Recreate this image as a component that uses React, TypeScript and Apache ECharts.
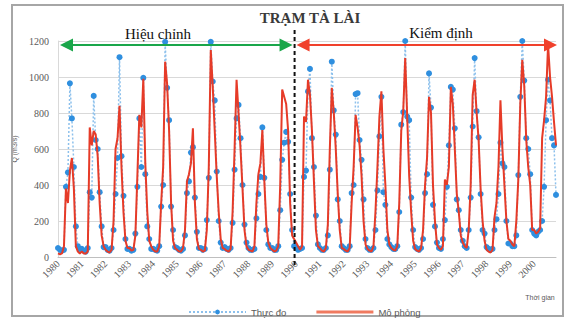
import React, { useEffect, useRef } from "react";
import * as echarts from "echarts";

const years = [1980, 1981, 1982, 1983, 1984, 1985, 1986, 1987, 1988, 1989, 1990, 1991, 1992, 1993, 1994, 1995, 1996, 1997, 1998, 1999, 2000];
const months = ["01", "02", "03", "04", "05", "06", "07", "08", "09", "10", "11", "12"];

// Thực đo (observed), monthly, m3/s
const observed = [
  50, 40, 35, 40, 390, 470, 965, 770, 500, 170, 60, 45,
  45, 35, 30, 50, 360, 330, 895, 650, 600, 360, 170, 55,
  55, 40, 35, 50, 150, 350, 550, 1110, 560, 340, 100, 45,
  45, 35, 40, 130, 390, 770, 500, 995, 460, 170, 100, 45,
  45, 40, 35, 60, 280, 400, 1195, 940, 760, 280, 150, 55,
  50, 40, 35, 45, 120, 355, 420, 580, 610, 330, 140, 50,
  50, 40, 45, 205, 440, 1195, 975, 870, 475, 200, 80, 50,
  55, 45, 40, 50, 190, 485, 770, 845, 660, 400, 180, 80,
  50, 40, 40, 45, 215, 350, 445, 720, 440, 150, 70, 50,
  50, 40, 40, 60, 260, 540, 635, 695, 640, 350, 150, 60,
  50, 40, 45, 50, 445, 480, 920, 1045, 660, 500, 230, 70,
  50, 40, 40, 50, 120, 485, 1085, 815, 680, 320, 200, 60,
  50, 40, 40, 60, 355, 400, 905, 910, 650, 540, 320, 100,
  50, 40, 40, 50, 150, 370, 670, 890, 360, 290, 100, 70,
  55, 45, 45, 60, 250, 735, 805, 1200, 780, 760, 330, 150,
  55, 45, 40, 50, 100, 355, 460, 1020, 830, 290, 170, 80,
  50, 45, 100, 205, 390, 620, 945, 930, 715, 320, 260, 150,
  90, 60, 50, 150, 330, 725, 1105, 810, 665, 350, 150, 130,
  55, 45, 40, 45, 150, 210, 350, 635, 520, 500, 200, 75,
  75, 60, 60, 120, 455, 890, 1200, 980, 660, 600, 460, 150,
  130, 120, 140, 150, 200, 390, 760, 985, 870, 660, 620, 345,
];

// Mô phỏng (simulated), monthly, m3/s
const simulated = [
  20, 15, 20, 60, 380, 300, 480, 550, 380, 60, 30, 20,
  30, 20, 20, 30, 720, 620, 700, 680, 560, 300, 120, 60,
  40, 30, 25, 40, 200, 600, 660, 840, 500, 250, 90, 50,
  50, 35, 40, 120, 450, 790, 720, 990, 520, 250, 90, 60,
  40, 30, 30, 60, 300, 500, 1085, 960, 700, 300, 90, 50,
  40, 30, 30, 50, 150, 420, 460, 520, 715, 300, 100, 45,
  40, 30, 35, 150, 500, 1150, 945, 700, 450, 250, 100, 50,
  45, 35, 30, 45, 250, 600, 985, 800, 600, 380, 150, 60,
  40, 35, 30, 60, 300, 460, 520, 705, 420, 180, 80, 50,
  40, 30, 35, 60, 400, 930, 890, 850, 700, 300, 120, 100,
  80, 60, 40, 60, 780, 750, 985, 900, 700, 420, 150, 60,
  50, 35, 30, 50, 180, 600, 940, 800, 600, 350, 150, 50,
  45, 35, 30, 50, 300, 500, 790, 720, 620, 450, 200, 70,
  45, 35, 30, 60, 250, 500, 780, 920, 600, 400, 150, 70,
  50, 40, 35, 60, 300, 700, 810, 1105, 780, 450, 250, 90,
  45, 35, 30, 50, 150, 400, 550, 890, 800, 400, 200, 70,
  50, 40, 60, 430, 400, 500, 945, 850, 600, 350, 250, 120,
  80, 60, 50, 150, 400, 900, 985, 800, 650, 380, 200, 90,
  40, 30, 25, 40, 220, 300, 500, 870, 600, 400, 200, 100,
  90, 70, 60, 200, 430, 850, 1095, 950, 650, 500, 400, 150,
  150, 130, 140, 160, 660, 760, 890, 1180, 1000, 890, 750, 620,
];

const yTicks = [0, 200, 400, 600, 800, 1000, 1200];
const splitYear = 1990;

const categories: string[] = [];
years.forEach((y) => months.forEach((m) => categories.push(`${y}-${m}`)));

export default function App() {
  const ref = useRef<HTMLDivElement>(null);

  useEffect(() => {
    if (!ref.current) return;
    const chart = echarts.init(ref.current, null, { renderer: "svg" });
    const serif = "'Liberation Serif', 'DejaVu Serif', serif";
    const sans = "'Liberation Sans', Arial, sans-serif";

    chart.setOption({
      animation: false,
      backgroundColor: "#ffffff",
      title: {
        text: "TRẠM TÀ LÀI",
        left: 305,
        textAlign: "center",
        top: 5,
        textStyle: { fontFamily: serif, fontWeight: "bold", fontSize: 15, color: "#3a3a3a" },
      },
      grid: { left: 58, right: 9, top: 41, bottom: 63 },
      legend: {
        left: 183,
        top: 302,
        itemWidth: 57,
        itemHeight: 6,
        itemGap: 30,
        textStyle: { fontFamily: sans, fontSize: 9.5, color: "#595959" },
        data: [
          { name: "Thực đo" },
          { name: "Mô phỏng", icon: "path://M0,0h57v3h-57z", itemStyle: { color: "#f07a60" } },
        ],
      },
      xAxis: {
        type: "category",
        data: categories,
        boundaryGap: false,
        axisLine: { lineStyle: { color: "#bfbfbf" } },
        axisTick: { show: false },
        axisLabel: {
          interval: (i: number) => i % 12 === 0,
          formatter: (v: string) => v.slice(0, 4),
          rotate: 45,
          fontFamily: serif,
          fontSize: 10,
          color: "#595959",
          margin: 5,
        },
        splitLine: { show: false },
      },
      yAxis: {
        type: "value",
        min: yTicks[0],
        max: yTicks[yTicks.length - 1],
        interval: 200,
        name: "Q (m3/s)",
        nameLocation: "middle",
        nameRotate: 90,
        nameGap: 38,
        nameTextStyle: { fontFamily: sans, fontSize: 7, color: "#595959" },
        axisLine: { show: true, lineStyle: { color: "#d9d9d9" } },
        axisTick: { show: false },
        axisLabel: { fontFamily: serif, fontSize: 10, color: "#595959", margin: 9, formatter: (v: number) => String(v) },
        splitLine: { lineStyle: { color: "#d9d9d9", width: 1 } },
      },
      series: [
        {
          name: "Thực đo",
          type: "line",
          data: observed,
          symbol: "circle",
          symbolSize: 6,
          showAllSymbol: true,
          z: 2,
          itemStyle: { color: "#2f8fdf" },
          lineStyle: { type: [2, 2], width: 1.5, color: "#8cc0ec" },
        },
        {
          name: "Mô phỏng",
          type: "line",
          data: simulated,
          symbol: "none",
          z: 3,
          itemStyle: { color: "#ee6a50" },
          lineStyle: { width: 2, color: "#e63b28" },
        },
      ],
    });

    const x0 = chart.convertToPixel({ xAxisIndex: 0 }, categories[0]) as number;
    const xs = chart.convertToPixel({ xAxisIndex: 0 }, `${splitYear}-01`) as number;
    const xe = chart.convertToPixel({ xAxisIndex: 0 }, categories[categories.length - 1]) as number;
    const dashX = xs - 1.5;
    const ay = 45;
    const hl = 13;
    const hw = 6.5;

    const arrow = (a: number, b: number, color: string) => [
      { type: "line", shape: { x1: a + hl - 2, y1: ay, x2: b - hl + 2, y2: ay }, style: { stroke: color, lineWidth: 2 }, z: 10 },
      { type: "polygon", shape: { points: [[a, ay], [a + hl, ay - hw], [a + hl, ay + hw]] }, style: { fill: color }, z: 10 },
      { type: "polygon", shape: { points: [[b, ay], [b - hl, ay - hw], [b - hl, ay + hw]] }, style: { fill: color }, z: 10 },
    ];

    chart.setOption({
      graphic: [
        { type: "rect", shape: { x: 12, y: 5, width: 551, height: 311 }, style: { fill: "none", stroke: "#a6a6a6", lineWidth: 2 }, z: 1 },
        ...arrow(x0 + 2, dashX - 2, "#1aa64a"),
        ...arrow(dashX + 2, xe + 1, "#f0412c"),
        { type: "line", shape: { x1: dashX, y1: 30, x2: dashX, y2: 266 }, style: { stroke: "#111111", lineWidth: 2, lineDash: [4, 3] }, z: 11 },
        { type: "text", x: 158, y: 34, style: { text: "Hiệu chỉnh", font: `15px ${serif}`, fill: "#111111", align: "center", verticalAlign: "middle" }, z: 12 },
        { type: "text", x: 441, y: 33, style: { text: "Kiểm định", font: `15px ${serif}`, fill: "#111111", align: "center", verticalAlign: "middle" }, z: 12 },
        { type: "text", x: 540, y: 297, style: { text: "Thời gian", font: `7px ${sans}`, fill: "#595959", align: "center", verticalAlign: "middle" }, z: 12 },
      ],
    });

    return () => chart.dispose();
  }, []);

  return <div ref={ref} style={{ position: "absolute", left: 0, top: 0, width: 565, height: 320 }} />;
}
